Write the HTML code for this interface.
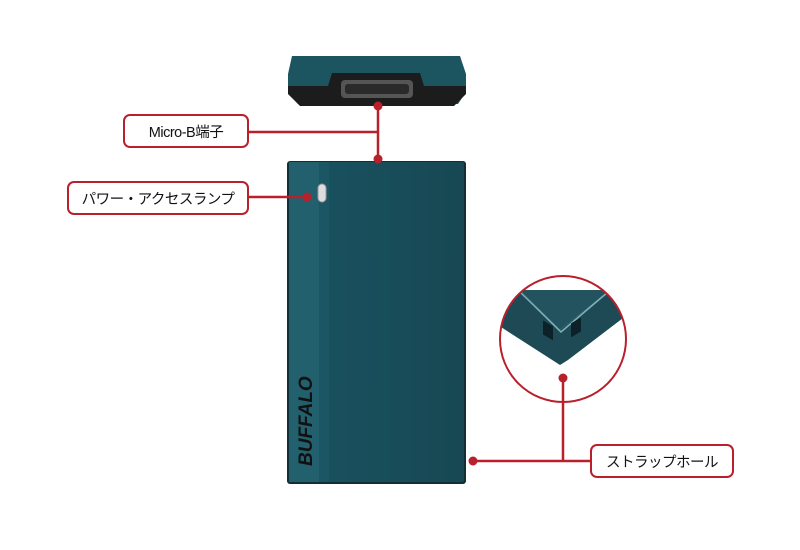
<!DOCTYPE html>
<html><head><meta charset="utf-8"><style>
body{margin:0;width:800px;height:550px;background:#fff;position:relative;overflow:hidden;font-family:"Liberation Sans","Noto Sans CJK JP",sans-serif}
.lb{position:absolute;border:2px solid #b8202b;border-radius:7px;background:#fff;box-sizing:border-box;font-size:14.5px;color:#111;display:flex;align-items:center;justify-content:center;letter-spacing:-0.5px}
</style></head><body>
<svg width="800" height="550" style="position:absolute;left:0;top:0">
<defs>
<linearGradient id="g1" x1="0" x2="1"><stop offset="0" stop-color="#1a5361"/><stop offset="1" stop-color="#174854"/></linearGradient>
<clipPath id="cc"><circle cx="563" cy="339" r="63"/></clipPath>
</defs>
<path d="M292 56 L460 56 L466 74 L466 92 L458 104 L298 104 L288 92 L288 74 Z" fill="#1c5460"/>
<path d="M288 86 L466 86 L466 94 L454 106 L300 106 L288 94 Z" fill="#1c1c1c"/>
<path d="M332 73 L420 73 L424 86 L328 86 Z" fill="#1c1c1c"/>
<rect x="341" y="80" width="72" height="18" rx="4" fill="#555"/>
<rect x="345" y="84" width="64" height="10" rx="3" fill="#2a2a2a"/>
<rect x="287" y="161" width="179" height="323" rx="3" fill="#122f38"/>
<rect x="289" y="162" width="175" height="320" rx="2" fill="url(#g1)"/>
<rect x="289" y="162" width="30" height="320" fill="#23606d"/>
<rect x="319" y="162" width="10" height="320" fill="#1d5866" opacity="0.7"/>
<rect x="318" y="184" width="8" height="18" rx="4" fill="#ddd" stroke="#999"/>
<text x="0" y="0" transform="translate(312,466) rotate(-90)" font-family="Liberation Sans" font-weight="bold" font-style="italic" font-size="19" fill="#111">BUFFALO</text>
<g clip-path="url(#cc)">
<rect x="490" y="270" width="150" height="140" fill="#fff"/>
<path d="M490 290 L520 290 L560 330 L610 290 L640 290 L640 305 L568 360 L560 365 L490 320 Z" fill="#1d4a55"/>
<path d="M520 290 L560 330 L610 290 L520 290Z" fill="#23535f"/>
<path d="M520 292 L561 332 L608 292" stroke="#7fb3bb" stroke-width="1.5" fill="none"/>
<rect x="543" y="320" width="10" height="14" fill="#0c2228" transform="skewY(30) translate(0,-313)"/>
<rect x="571" y="320" width="10" height="14" fill="#0c2228" transform="skewY(-30) translate(0,333)"/>
</g>
<circle cx="563" cy="339" r="63" fill="none" stroke="#b8202b" stroke-width="2"/>
<g stroke="#b8202b" stroke-width="2.5" fill="none">
<path d="M248 132 H378 M378 105 V159"/>
<path d="M248 197 H307"/>
<path d="M563 378 V461 H590 M473 461 H563"/>
</g>
<g fill="#b8202b">
<circle cx="378" cy="106" r="4.5"/><circle cx="378" cy="159" r="4.5"/>
<circle cx="307" cy="197" r="4.5"/><circle cx="563" cy="378" r="4.5"/><circle cx="473" cy="461" r="4.5"/>
</g>
</svg>
<div class="lb" style="left:123px;top:114px;width:126px;height:34px">Micro-B端子</div>
<div class="lb" style="left:67px;top:181px;width:182px;height:34px">パワー・アクセスランプ</div>
<div class="lb" style="left:590px;top:444px;width:144px;height:34px">ストラップホール</div>
</body></html>
